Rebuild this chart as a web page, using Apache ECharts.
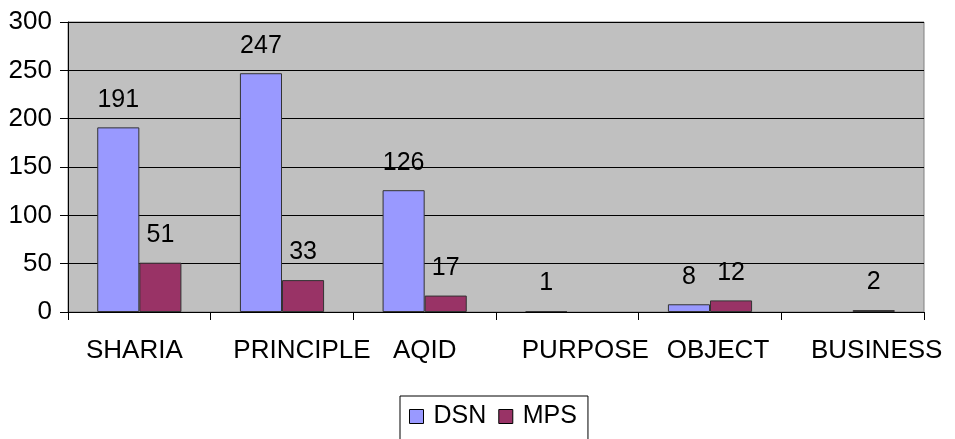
<!DOCTYPE html>
<html>
<head>
<meta charset="utf-8">
<script src="https://cdn.jsdelivr.net/npm/echarts@6/dist/echarts.min.js"></script>
<style>html,body{margin:0;padding:0;background:#fff}#c{width:955px;height:439px}</style>
</head>
<body>
<div id="c"></div>
<script>
const categories = ['SHARIA', 'PRINCIPLE', 'AQID', 'PURPOSE', 'OBJECT', 'BUSINESS'];
const dsnValues = [191, 247, 126, 1, 8, null];
const mpsValues = [51, 33, 17, null, 12, 2];
const yTicks = { min: 0, max: 300, interval: 50 };

const FONT = '"Liberation Sans", Arial, sans-serif';
const chart = echarts.init(document.getElementById('c'), null, { renderer: 'canvas' });

// horizontal nudges of category labels, as placed in the original
const labelNudge = [-5, 20, 0, 18, 8, 24];
const rich = {};
labelNudge.forEach((s, i) => {
  rich['c' + i] = {
    color: '#000', fontFamily: FONT, fontSize: 26,
    padding: s >= 0 ? [0, 0, 0, 2 * s] : [0, -2 * s, 0, 0]
  };
});

const labelCommon = {
  show: true,
  position: 'top',
  distance: 15,
  color: '#000',
  fontFamily: FONT,
  fontSize: 25,
  formatter: p => (p.value == null ? '' : String(p.value))
};

chart.setOption({
  animation: false,
  textStyle: { fontFamily: FONT },
  grid: {
    left: 68, right: 31, top: 22, bottom: 127,
    show: true, backgroundColor: '#c0c0c0', borderColor: '#808080', borderWidth: 1
  },
  legend: {
    data: ['DSN', 'MPS'],
    left: 400, top: 396,
    padding: [8, 11, 30, 9],
    itemGap: 12, itemWidth: 14, itemHeight: 14,
    icon: 'rect',
    borderColor: '#000', borderWidth: 1,
    itemStyle: { borderColor: '#000', borderWidth: 1 },
    textStyle: { fontFamily: FONT, fontSize: 25, color: '#000', padding: [0, 0, 0, 5] }
  },
  xAxis: {
    type: 'category',
    data: categories,
    axisLine: { show: true, lineStyle: { color: '#000', width: 1 } },
    axisTick: { show: true, length: 8, lineStyle: { color: '#000' } },
    axisLabel: {
      color: '#000', fontFamily: FONT, fontSize: 26, margin: 26, interval: 0,
      formatter: (v, i) => '{c' + i + '|' + v + '}',
      rich: rich
    },
    splitLine: { show: false }
  },
  yAxis: {
    type: 'value',
    min: yTicks.min, max: yTicks.max, interval: yTicks.interval,
    axisLine: { show: true, lineStyle: { color: '#000', width: 1 } },
    axisTick: { show: true, length: 8, lineStyle: { color: '#000' } },
    axisLabel: { color: '#000', fontFamily: FONT, fontSize: 26, margin: 16 },
    splitLine: { show: true, lineStyle: { color: '#000', width: 1 } }
  },
  series: [
    {
      name: 'DSN', type: 'bar', data: dsnValues,
      barGap: '0%', barCategoryGap: '41%',
      itemStyle: { color: '#9999ff', borderColor: '#333', borderWidth: 1 },
      label: labelCommon
    },
    {
      name: 'MPS', type: 'bar', data: mpsValues,
      itemStyle: { color: '#993366', borderColor: '#333', borderWidth: 1 },
      label: labelCommon
    }
  ]
});
</script>
</body>
</html>
